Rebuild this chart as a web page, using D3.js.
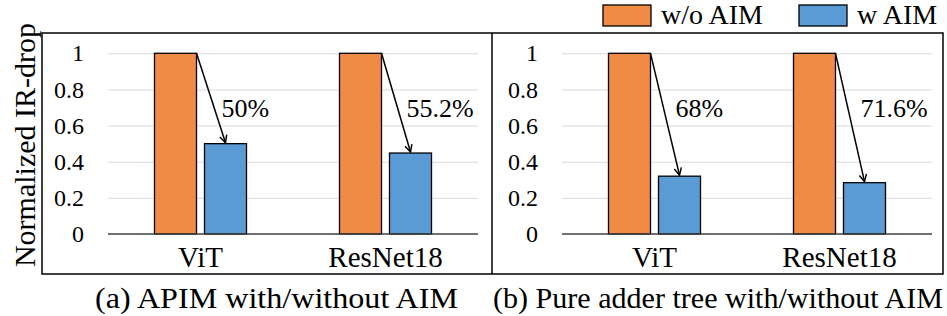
<!DOCTYPE html>
<html>
<head>
<meta charset="utf-8">
<script src="https://cdn.jsdelivr.net/npm/d3@7"></script>
<style>
  body { margin: 0; background: #fff; }
  svg text { font-family: 'Liberation Serif', 'Times New Roman', serif !important; }
</style>
</head>
<body>
<svg width="947" height="316"></svg>
<script>
const svg = d3.select("svg");
const FONT = "'Liberation Serif', 'Times New Roman', serif";

const models = ["ViT", "ResNet18"];
const series = ["w/o AIM", "w AIM"];
const colors = ["#F08B45", "#5B9BD5"];
const yTicks = [0, 0.2, 0.4, 0.6, 0.8, 1];

// panel (a) APIM, panel (b) pure adder tree
const apimWithout = [1, 1];
const apimWith = [0.5, 0.448];
const apimLabels = ["50%", "55.2%"];
const adderWithout = [1, 1];
const adderWith = [0.32, 0.284];
const adderLabels = ["68%", "71.6%"];
const captions = ["(a) APIM with/without AIM", "(b) Pure adder tree with/without AIM"];

const panels = [
    { left: 108, right: 478, without: apimWithout, with: apimWith, labels: apimLabels, caption: captions[0], capX: [95, 458] },
    { left: 562, right: 932, without: adderWithout, with: adderWith, labels: adderLabels, caption: captions[1], capX: [493, 943] }
];

const y = d3.scaleLinear().domain([0, 1]).range([234, 53.3]);

// arrow marker
svg.append("defs").append("marker")
    .attr("id", "arrow")
    .attr("viewBox", "0 0 10 10")
    .attr("refX", 9).attr("refY", 5)
    .attr("markerWidth", 9).attr("markerHeight", 9)
    .attr("markerUnits", "userSpaceOnUse")
    .attr("orient", "auto")
  .append("path")
    .attr("d", "M1,1 L9,5 L1,9")
    .attr("fill", "none")
    .attr("stroke", "#000")
    .attr("stroke-width", 1.6);

// outer frame with divider
svg.append("rect")
    .attr("x", 42).attr("y", 33)
    .attr("width", 901).attr("height", 241)
    .attr("fill", "none").attr("stroke", "#000").attr("stroke-width", 1.5);
svg.append("line")
    .attr("x1", 492).attr("x2", 492).attr("y1", 33).attr("y2", 274)
    .attr("stroke", "#000").attr("stroke-width", 1.5);

panels.forEach(p => {
    const g = svg.append("g");
    const x0 = d3.scaleBand().domain(models).range([p.left, p.right]);
    const x1 = d3.scaleBand().domain(series)
        .range([x0.bandwidth() / 2 - 46, x0.bandwidth() / 2 + 46])
        .paddingInner(0.16);

    // gridlines
    g.append("g")
        .attr("transform", `translate(${p.left},0)`)
        .call(d3.axisLeft(y).tickValues(yTicks.slice(1)).tickSize(-(p.right - p.left)).tickFormat(""))
        .call(a => a.select(".domain").remove())
        .call(a => a.selectAll("line").attr("stroke", "#d9d9d9").attr("stroke-width", 1));

    // y tick labels
    g.append("g")
        .attr("transform", `translate(${p.left},0)`)
        .call(d3.axisLeft(y).tickValues(yTicks).tickSize(0).tickPadding(24).tickFormat(d3.format("~g")))
        .attr("font-family", FONT)
        .attr("font-size", 24)
        .call(a => a.select(".domain").remove())
        .call(a => a.selectAll("text").attr("fill", "#000").style("font-family", FONT, "important"));

    // bars
    const rows = models.map((m, i) => ({ model: m, values: [p.without[i], p.with[i]], label: p.labels[i] }));
    rows.forEach(r => {
        const gx = x0(r.model);
        r.values.forEach((v, j) => {
            g.append("rect")
                .attr("x", gx + x1(series[j]))
                .attr("y", y(v))
                .attr("width", x1.bandwidth())
                .attr("height", y(0) - y(v))
                .attr("fill", colors[j])
                .attr("stroke", "#000")
                .attr("stroke-width", 1.3);
        });
        const ox = gx + x1(series[0]) + x1.bandwidth();
        const bx = gx + x1(series[1]) + x1.bandwidth() / 2;
        g.append("line")
            .attr("x1", ox).attr("y1", y(r.values[0]))
            .attr("x2", bx).attr("y2", y(r.values[1]) - 1)
            .attr("stroke", "#000").attr("stroke-width", 1.5)
            .attr("marker-end", "url(#arrow)");
        g.append("text")
            .attr("x", ox + 25)
            .attr("y", y(r.values[0]) + 64)
            .attr("font-size", 26)
            .style("font-family", FONT, "important")
            .text(r.label);
        g.append("text")
            .attr("x", gx + x0.bandwidth() / 2)
            .attr("y", 267)
            .attr("text-anchor", "middle")
            .attr("font-size", 29)
            .style("font-family", FONT, "important")
            .text(r.model);
    });

    // zero line
    g.append("line")
        .attr("x1", p.left).attr("x2", p.right)
        .attr("y1", y(0)).attr("y2", y(0))
        .attr("stroke", "#404040").attr("stroke-width", 1.5);

    // caption
    svg.append("text")
        .attr("x", p.capX[0])
        .attr("y", 308)
        .attr("font-size", 30)
        .attr("textLength", p.capX[1] - p.capX[0])
        .attr("lengthAdjust", "spacingAndGlyphs")
        .style("font-family", FONT, "important")
        .text(p.caption);
});

// y axis title
svg.append("text")
    .attr("transform", "translate(35,145) rotate(-90)")
    .attr("text-anchor", "middle")
    .attr("font-size", 30)
    .style("font-family", FONT, "important")
    .text("Normalized IR-drop");

// legend
const legendX = [603, 799];
series.forEach((s, i) => {
    svg.append("rect")
        .attr("x", legendX[i]).attr("y", 5)
        .attr("width", 48).attr("height", 21)
        .attr("fill", colors[i]).attr("stroke", "#000").attr("stroke-width", 1.3);
    svg.append("text")
        .attr("x", legendX[i] + 58).attr("y", 24)
        .attr("font-size", 28)
        .style("font-family", FONT, "important")
        .text(s);
});
</script>
</body>
</html>
